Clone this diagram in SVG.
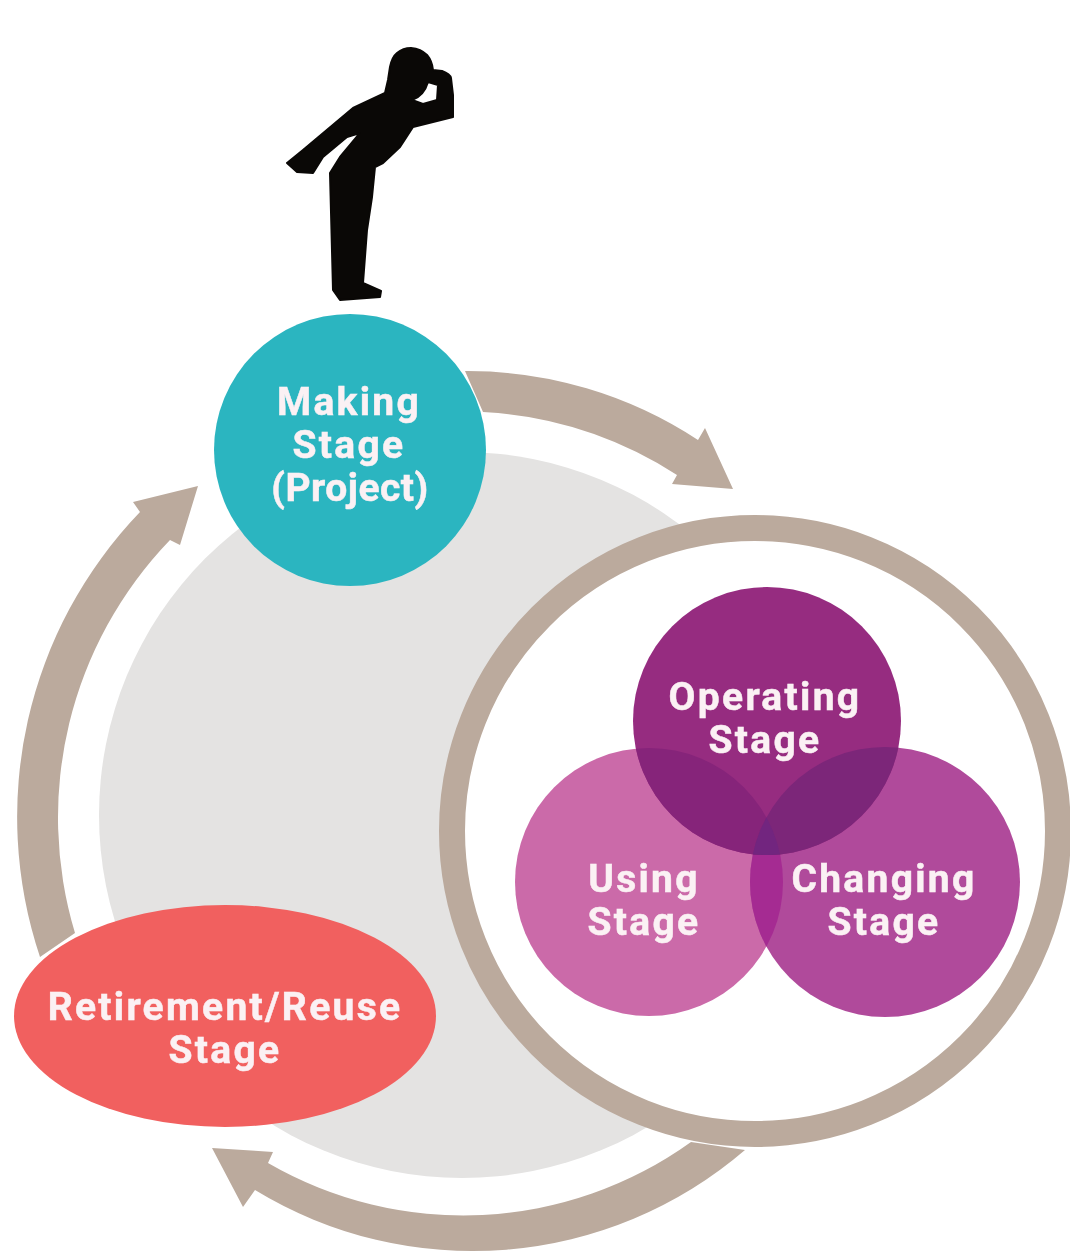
<svg xmlns="http://www.w3.org/2000/svg" width="1070" height="1251" viewBox="0 0 1070 1251">
<style>
.l{font-family:Roboto,"Liberation Sans",sans-serif;font-weight:700;font-size:39px;fill:#fbf1f4;stroke:#fbf1f4;stroke-width:.5px;text-anchor:middle;letter-spacing:2.3px}
.t{letter-spacing:.5px}
.a{fill:#bbaa9d}
</style>
<defs>
<filter id="soft" filterUnits="userSpaceOnUse" x="0" y="0" width="1070" height="1251" color-interpolation-filters="sRGB"><feGaussianBlur stdDeviation="0.7"/></filter>
<clipPath id="cu"><circle cx="649" cy="882" r="134"/></clipPath>
<clipPath id="cc"><circle cx="885" cy="882" r="135"/></clipPath>
</defs>
<rect width="1070" height="1251" fill="#fff"/>
<g filter="url(#soft)">
<circle id="backdrop" cx="462" cy="815" r="363" fill="#e4e3e2"/>
<g id="connectors">
<path class="a" d="M465 371A420 420 0 0 1 698 440L705 428L733 489L672 484L677 475A400 400 0 0 0 483 412Z"/>
<path class="a" d="M40 957A440 440 0 0 1 140 512L133 502L198 486L180 545L170 540A400 400 0 0 0 75 933Z"/>
<path class="a" d="M745 1150A418 418 0 0 1 255 1190L243 1207L212 1148L273 1152L268 1163A390 390 0 0 0 691 1142Z"/>
</g>
<g id="operating-ring"><circle cx="755" cy="831" r="303" fill="#fff" stroke="#bbaa9d" stroke-width="26"/></g>
<g id="making"><circle cx="350" cy="450" r="136" fill="#2bb5c0"/><text class="l"><tspan x="349" y="415">Making</tspan><tspan x="349" y="458">Stage</tspan><tspan class="t" x="350" y="501">(Project)</tspan></text></g>
<g id="retirement"><ellipse cx="225" cy="1016" rx="211" ry="111" fill="#f1605f"/><text class="l"><tspan x="225" y="1020">Retirement/Reuse</tspan><tspan x="225" y="1063">Stage</tspan></text></g>
<g id="using"><circle cx="649" cy="882" r="134" fill="#cb6aa9"/></g>
<g id="changing"><circle cx="885" cy="882" r="135" fill="#b04a9b"/><circle cx="885" cy="882" r="135" fill="#a52b92" clip-path="url(#cu)"/></g>
<g id="operating"><circle cx="767" cy="721" r="134" fill="#962c80"/><circle cx="767" cy="721" r="134" fill="#86247a" clip-path="url(#cu)"/><circle cx="767" cy="721" r="134" fill="#7c2679" clip-path="url(#cc)"/><g clip-path="url(#cu)"><circle cx="767" cy="721" r="134" fill="#72257f" clip-path="url(#cc)"/></g></g>
<text class="l"><tspan x="765" y="710">Operating</tspan><tspan x="765" y="753">Stage</tspan></text>
<text class="l"><tspan x="644" y="892">Using</tspan><tspan x="644" y="935">Stage</tspan></text>
<text class="l"><tspan x="884" y="892">Changing</tspan><tspan x="884" y="935">Stage</tspan></text>
<g id="figure"><path fill="#0a0806" stroke="#0a0806" stroke-width="2" stroke-linejoin="round" fill-rule="evenodd" d="M390 67Q392 57 397 53Q403 48 411 48Q421 49 427 55Q432 61 433 70L442 71Q450 74 451 78L453 95L453 117L413 127L400 147L383 163L375 167L372 197L367 230L363 283L381 291L380 297L340 300L333 290L330 173L340 157L360 133L347 137L323 157L313 173L297 172L287 163L303 150L353 108L385 93L388 80Z M412 100Q424 96 428 82L438 85L437 100L423 104Z"/></g>
</g>
</svg>
